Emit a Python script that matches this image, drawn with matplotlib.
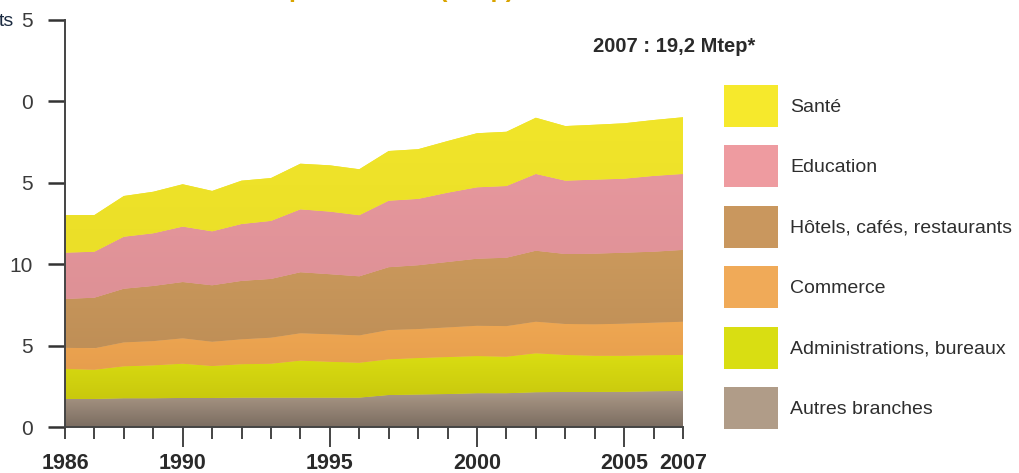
import matplotlib
matplotlib.use('Agg')
import matplotlib.pyplot as plt
import numpy as np
from matplotlib.colors import LinearSegmentedColormap
from matplotlib.patches import Rectangle, Polygon

plt.rcParams['font.family'] = ['Liberation Sans', 'DejaVu Sans']

years = list(range(1986, 2008))

# Mtep per branch (bottom to top)
autres = [1.74, 1.74, 1.78, 1.78, 1.80, 1.80, 1.82, 1.82, 1.82, 1.82, 1.82,
          1.98, 2.01, 2.04, 2.09, 2.09, 2.15, 2.17, 2.17, 2.18, 2.21, 2.23]
admin = [1.84, 1.79, 1.96, 2.02, 2.10, 1.96, 2.05, 2.08, 2.27, 2.20, 2.14,
         2.19, 2.24, 2.27, 2.28, 2.24, 2.39, 2.27, 2.22, 2.21, 2.21, 2.21]
commerce = [1.30, 1.32, 1.47, 1.49, 1.56, 1.49, 1.53, 1.60, 1.68, 1.69, 1.68,
            1.80, 1.78, 1.82, 1.86, 1.88, 1.94, 1.90, 1.93, 1.97, 2.00, 2.04]
hotels = [2.99, 3.10, 3.29, 3.38, 3.45, 3.46, 3.58, 3.60, 3.74, 3.68, 3.62,
          3.85, 3.91, 4.01, 4.11, 4.19, 4.35, 4.29, 4.33, 4.35, 4.35, 4.40]
education = [2.84, 2.82, 3.19, 3.23, 3.40, 3.31, 3.49, 3.56, 3.86, 3.84, 3.75,
             4.08, 4.07, 4.25, 4.38, 4.40, 4.71, 4.50, 4.54, 4.54, 4.65, 4.66]
sante = [2.31, 2.25, 2.50, 2.55, 2.60, 2.48, 2.66, 2.63, 2.80, 2.84, 2.82,
         3.05, 3.05, 3.17, 3.32, 3.33, 3.45, 3.35, 3.37, 3.40, 3.43, 3.48]

series = [autres, admin, commerce, hotels, education, sante]
labels = ['Autres branches', 'Administrations, bureaux', 'Commerce',
          'Hôtels, cafés, restaurants', 'Education', 'Santé']
# (top colour, bottom colour) for each band
colors = [('#ad9a88', '#7b6d61'), ('#dadd12', '#c9c90d'), ('#eea752', '#e79e4d'),
          ('#cb995c', '#bf8f57'), ('#e6979d', '#de9196'), ('#f1e52a', '#ebdf28')]
legend_colors = ['#b09c88', '#d9de12', '#f0aa58', '#c9975e', '#ee9ba0', '#f6e92c']

ytick_vals = [0, 5, 10, 15, 20, 25]
ytick_text = ['0', '5', '10', '5', '0', '5']
xlabel_years = [1986, 1990, 1995, 2000, 2005, 2007]

fig = plt.figure(figsize=(10.19, 4.73), dpi=100)
ax = fig.add_axes([65 / 1019, 1 - 427.3 / 473, (683 - 65) / 1019, 407.5 / 473])

x = np.array(years, dtype=float)
base = np.zeros(len(years))
for vals, (c_top, c_bot) in zip(series, colors):
    top = base + np.array(vals)
    verts = np.column_stack([np.r_[x, x[::-1]], np.r_[top, base[::-1]]])
    poly = Polygon(verts, closed=True, facecolor=c_top, linewidth=0,
                   transform=ax.transData)
    ax.add_patch(poly)
    cmap = LinearSegmentedColormap.from_list('g', [c_bot, c_top])
    grad = np.linspace(0, 1, 64).reshape(-1, 1)
    im = ax.imshow(grad, cmap=cmap, origin='lower', aspect='auto',
                   extent=[x[0], x[-1], base.min(), top.max()], zorder=2)
    im.set_clip_path(poly)
    base = top

ax.set_xlim(1986, 2007)
ax.set_ylim(0, 25)

for s in ['top', 'right']:
    ax.spines[s].set_visible(False)
for s in ['left', 'bottom']:
    ax.spines[s].set_color('#444444')
    ax.spines[s].set_linewidth(1.4)
    ax.spines[s].set_zorder(5)

ax.set_yticks(ytick_vals, ytick_text)
ax.tick_params(axis='y', length=12, width=1.8, color='#333333', pad=11,
               labelsize=15, labelcolor='#3a3a3a')

major_years = [1990, 1995, 2000, 2005]
minor_years = [y for y in years if y not in major_years]
ax.set_xticks(major_years, [str(y) for y in major_years])
ax.set_xticks(minor_years, [str(y) if y in xlabel_years else '' for y in minor_years],
              minor=True)
ax.tick_params(axis='x', which='major', length=14.4, width=1.4, color='#444444',
               pad=4, labelsize=15.5)
ax.tick_params(axis='x', which='minor', length=8.6, width=1.4, color='#444444',
               pad=9.8, labelsize=15.5)
for lab in ax.get_xticklabels(which='both'):
    lab.set_fontweight('bold')
    lab.set_color('#2a2a2a')

# legend drawn as patches in figure coordinates
W, H = 1019, 473
for i, (lab, col) in enumerate(zip(labels[::-1], legend_colors[::-1])):
    ytop = 85 + i * 60.4
    fig.patches.append(Rectangle((724 / W, 1 - (ytop + 42) / H), 54 / W, 42 / H,
                                 transform=fig.transFigure, color=col, lw=0))
    fig.text(790 / W, 1 - (ytop + 22) / H, lab, fontsize=14, color='#2e2e2e',
             va='center', ha='left')

fig.text(593 / W, 1 - 47 / H, '2007 : 19,2 Mtep*', fontsize=14.5, fontweight='bold',
         color='#2a2a2a', va='center', ha='left')
fig.text(-1 / W, 1 - 22 / H, 'ts', fontsize=14, color='#1a2a40', va='center',
         ha='left')
# title of the original chart, cut off by the top edge of the image
fig.text(100 / W, 1 + 3 / H, 'Consommation par branche (Mtep)', fontsize=18,
         fontweight='bold', color='#d9a400', va='baseline', ha='left')

fig.savefig('out.png', dpi=100)
